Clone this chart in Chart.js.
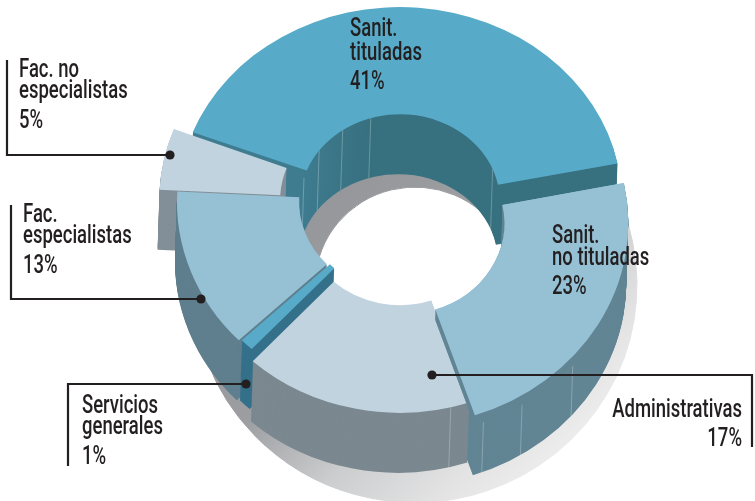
<!DOCTYPE html>
<html>
<head>
<meta charset="utf-8">
<style>html,body{margin:0;padding:0;background:#fff}#w{position:relative;width:755px;height:501px}</style>
<script src="https://cdn.jsdelivr.net/npm/chart.js@4/dist/chart.umd.min.js"></script>
</head>
<body>
<div id="w"><canvas id="c" width="755" height="501"></canvas></div>
<script>
const categories = ["Sanit. tituladas","Sanit. no tituladas","Administrativas","Servicios generales","Fac. especialistas","Fac. no especialistas"];
const shares = [41,23,17,1,13,5];
const faceColors = ["#57abc8","#96c1d5","#c0d3df","#57abc8","#96c1d5","#c0d3df"];
const wallColors = ["#37707f","#628594","#7b8890","#35708a","#5f7f8e","#828f98"];
const shiftX = [0,3,0,2,-1,-21];
const shiftY = [-13,8,2,-13,-13,-15];
const scales = [1,1.015,0.98,1,1,0.99];
const tilt = [0.878,0.9,0.9,0.9,0.9,0.9];
const drawOrder = [0,5,4,1,3,2];
const facets = [[0,-74,'in'],[0,-54,'in'],[0,-35,'in'],[0,-17,'in'],[0,68,'in'],[1,159,'out'],[1,148,'out'],[1,131,'out'],[2,166.5,'out']];
const textBlocks = [
 {x:350,a:'left',l:[["Sanit.",36],["tituladas",60],["41%",89]]},
 {x:19,a:'left',l:[["Fac. no",77],["especialistas",98],["5%",128]]},
 {x:23,a:'left',l:[["Fac.",222],["especialistas",243],["13%",273]]},
 {x:82,a:'left',l:[["Servicios",413],["generales",434],["1%",464]]},
 {x:552,a:'left',l:[["Sanit.",243],["no tituladas",265],["23%",294]]},
 {x:742,a:'right',l:[["Administrativas",417],["17%",446]]}
];
const leaders = [
 [[7,60],[7,155],[170,155]],
 [[11,205],[11,299],[201,299]],
 [[68,466],[68,384],[246,384]],
 [[752,447],[752,375],[432,375]]
];
const DEPTH = 60, TEXT_SQUEEZE = 0.74;

function ghost(arc, fill){
  const g = Object.create(arc);
  g.options = {backgroundColor:fill,borderColor:fill,borderWidth:0,offset:0,spacing:0,circular:true,borderRadius:0,borderAlign:'center',borderJoinStyle:'round',borderDash:[],borderDashOffset:0};
  return g;
}
function place(ctx, arc, i, dx, dy){
  const s = scales[i];
  ctx.translate(arc.x+shiftX[i]+dx, arc.y+shiftY[i]+dy);
  ctx.scale(s, tilt[i]*s);
  ctx.translate(-arc.x,-arc.y);
}
function wall(ctx, arc, i, depth, fill){
  for(let d=depth;d>=1;d--){
    ctx.save();
    place(ctx,arc,i,-2*d/DEPTH,d);
    ghost(arc,fill).draw(ctx);
    ctx.restore();
  }
}
function facetLines(ctx, arcs, i){
  facets.filter(f=>f[0]===i).forEach(f=>{
    const arc=arcs[i], s=scales[i], a=f[1]*Math.PI/180;
    const r=(f[2]==='in'?arc.innerRadius:arc.outerRadius)*s;
    const px=arc.x+shiftX[i]+r*Math.sin(a), py=arc.y+shiftY[i]-r*tilt[i]*Math.cos(a);
    ctx.save();
    ctx.strokeStyle='rgba(225,235,240,.3)';ctx.lineWidth=1;
    ctx.beginPath();ctx.moveTo(px,py);ctx.lineTo(px-2,py+DEPTH);ctx.stroke();
    ctx.restore();
  });
}
const donut3d = {
  id:'donut3d',
  beforeDatasetDraw(chart){
    const ctx=chart.ctx, arcs=chart.getDatasetMeta(0).data;
    // soft cast shadow, fading towards the lower right
    arcs.forEach(arc=>{
      ctx.save();
      ctx.translate(15,70);
      ctx.translate(arc.x,arc.y);ctx.scale(1,.98);ctx.translate(-arc.x,-arc.y);
      const lg=ctx.createLinearGradient(285,130,545,400);
      lg.addColorStop(0,'#95969a');lg.addColorStop(.33,'#9d9ea2');lg.addColorStop(.6,'#cccdce');lg.addColorStop(.85,'#e4e4e5');lg.addColorStop(1,'#eeeeee');
      const s2=ghost(arc,lg);
      s2.options.borderWidth=1;
      s2.draw(ctx);
      ctx.restore();
    });
    const g0=ctx.createLinearGradient(300,0,372,0);
    g0.addColorStop(0,'#3f7c90');g0.addColorStop(1,'#37707f');
    const fillOf=i=>i===0?g0:wallColors[i];
    const face=(i)=>{ctx.save();place(ctx,arcs[i],i,0,0);arcs[i].draw(ctx);ctx.restore();};
    drawOrder.forEach(i=>{
      wall(ctx,arcs[i],i,DEPTH,fillOf(i));
      facetLines(ctx,arcs,i);
      face(i);
    });
    // Sanit. no tituladas keeps its thin edge in front of the neighbouring slice
    wall(ctx,arcs[1],1,10,wallColors[1]);
    face(1);
    return false;
  },
  afterDraw(chart){
    const ctx=chart.ctx;
    ctx.save();
    ctx.strokeStyle='#231f20';ctx.fillStyle='#231f20';ctx.lineWidth=2.2;ctx.lineJoin='miter';
    leaders.forEach(p=>{
      ctx.beginPath();ctx.moveTo(p[0][0],p[0][1]);
      p.slice(1).forEach(q=>ctx.lineTo(q[0],q[1]));ctx.stroke();
      const e=p[p.length-1];
      ctx.beginPath();ctx.arc(e[0],e[1],4.6,0,Math.PI*2);ctx.fill();
    });
    ctx.font='500 25px Roboto,"DejaVu Sans Condensed",sans-serif';
    ctx.textBaseline='alphabetic';
    textBlocks.forEach(b=>{
      ctx.textAlign=b.a;
      b.l.forEach(t=>{
        ctx.save();
        ctx.translate(b.x,t[1]);ctx.scale(TEXT_SQUEEZE,1);
        ctx.fillText(t[0],0,0);
        ctx.restore();
      });
    });
    ctx.restore();
  }
};
new Chart(document.getElementById('c'),{
  type:'doughnut',
  data:{labels:categories,datasets:[{data:shares,backgroundColor:faceColors,borderWidth:0,radius:222,cutout:'45%'}]},
  options:{
    responsive:false,animation:false,rotation:-69,
    layout:{padding:{left:45,bottom:71}},
    plugins:{legend:{display:false},tooltip:{enabled:false}}
  },
  plugins:[donut3d]
});
</script>
</body>
</html>
